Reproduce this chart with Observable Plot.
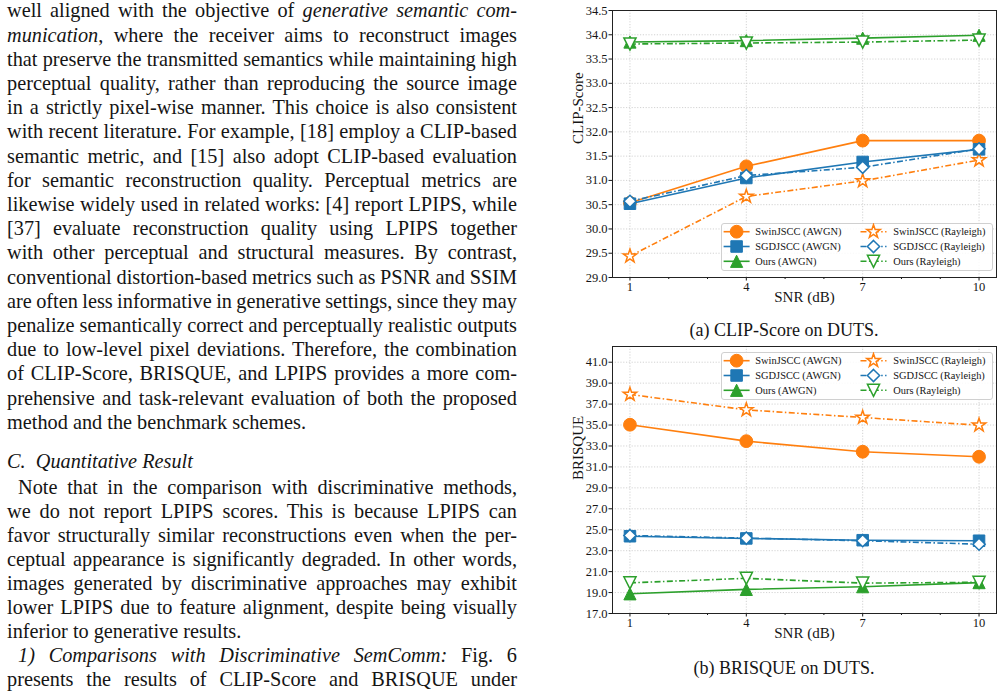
<!DOCTYPE html>
<html>
<head>
<meta charset="utf-8">
<script src="https://cdn.jsdelivr.net/npm/d3@7"></script>
<script src="https://cdn.jsdelivr.net/npm/@observablehq/plot@0.6"></script>
<style>
  html, body { margin: 0; padding: 0; background: #fff; }
  body { width: 1003px; height: 695px; overflow: hidden; position: relative;
         font-family: "Liberation Serif", "Times New Roman", serif; color: #151515; }
  .para { position: absolute; left: 7px; width: 510px; font-size: 20.3px; }
  .j { text-align: justify; text-align-last: justify; word-spacing: -2px; }
  .ind { text-indent: 11px; }
  .chart { position: absolute; left: 560px; width: 443px; height: 310px; }
  .cap { position: absolute; left: 584px; width: 400px; text-align: center; font-size: 18px; line-height: 20px; }
</style>
</head>
<body>

<div class="para" style="top:-1.6px; line-height:24.2px;">
  <div class="j">well aligned with the objective of <i>generative semantic com-</i></div>
  <div class="j"><i>munication</i>, where the receiver aims to reconstruct images</div>
  <div class="j">that preserve the transmitted semantics while maintaining high</div>
  <div class="j">perceptual quality, rather than reproducing the source image</div>
  <div class="j">in a strictly pixel-wise manner. This choice is also consistent</div>
  <div class="j">with recent literature. For example, [18] employ a CLIP-based</div>
  <div class="j">semantic metric, and [15] also adopt CLIP-based evaluation</div>
  <div class="j">for semantic reconstruction quality. Perceptual metrics are</div>
  <div class="j">likewise widely used in related works: [4] report LPIPS, while</div>
  <div class="j">[37] evaluate reconstruction quality using LPIPS together</div>
  <div class="j">with other perceptual and structural measures. By contrast,</div>
  <div class="j">conventional distortion-based metrics such as PSNR and SSIM</div>
  <div class="j">are often less informative in generative settings, since they may</div>
  <div class="j">penalize semantically correct and perceptually realistic outputs</div>
  <div class="j">due to low-level pixel deviations. Therefore, the combination</div>
  <div class="j">of CLIP-Score, BRISQUE, and LPIPS provides a more com-</div>
  <div class="j">prehensive and task-relevant evaluation of both the proposed</div>
  <div>method and the benchmark schemes.</div>
</div>

<div class="para" style="top:448.6px; line-height:24.2px;"><i>C.&nbsp; Quantitative Result</i></div>

<div class="para" style="top:474.6px; line-height:24px;">
  <div class="j ind">Note that in the comparison with discriminative methods,</div>
  <div class="j">we do not report LPIPS scores. This is because LPIPS can</div>
  <div class="j">favor structurally similar reconstructions even when the per-</div>
  <div class="j">ceptual appearance is significantly degraded. In other words,</div>
  <div class="j">images generated by discriminative approaches may exhibit</div>
  <div class="j">lower LPIPS due to feature alignment, despite being visually</div>
  <div>inferior to generative results.</div>
  <div class="j ind"><i>1) Comparisons with Discriminative SemComm:</i> Fig. 6</div>
  <div class="j">presents the results of CLIP-Score and BRISQUE under</div>
</div>

<div id="c1" class="chart" style="top:0px;"></div>
<div class="cap" style="top:320px;">(a) CLIP-Score on DUTS.</div>
<div id="c2" class="chart" style="top:336px;"></div>
<div class="cap" style="top:658px;">(b) BRISQUE on DUTS.</div>

<script>
// ---------------- data ----------------
const snr = [1, 4, 7, 10];
const snrMinor = [2, 3, 5, 6, 8, 9];

const seriesNames = ["SwinJSCC (AWGN)", "SGDJSCC (AWGN)", "Ours (AWGN)",
                     "SwinJSCC (Rayleigh)", "SGDJSCC (Rayleigh)", "Ours (Rayleigh)"];

// (a) CLIP-Score on DUTS
const clipSwinAwgn = [30.54, 31.29, 31.82, 31.82];
const clipSgdAwgn  = [30.52, 31.05, 31.38, 31.64];
const clipOursAwgn = [33.85, 33.88, 33.93, 33.99];
const clipSwinRay  = [29.44, 30.67, 30.99, 31.42];
const clipSgdRay   = [30.57, 31.10, 31.27, 31.65];
const clipOursRay  = [33.81, 33.83, 33.85, 33.89];
const clipTicks = [29.0, 29.5, 30.0, 30.5, 31.0, 31.5, 32.0, 32.5, 33.0, 33.5, 34.0, 34.5];

// (b) BRISQUE on DUTS
const brSwinAwgn = [35.03, 33.46, 32.45, 31.97];
const brSgdAwgn  = [24.38, 24.17, 24.00, 23.95];
const brOursAwgn = [18.88, 19.30, 19.56, 19.95];
const brSwinRay  = [37.92, 36.45, 35.72, 34.98];
const brSgdRay   = [24.45, 24.20, 23.95, 23.62];
const brOursRay  = [19.93, 20.36, 19.90, 19.98];
const brTicks = [17.0, 19.0, 21.0, 23.0, 25.0, 27.0, 29.0, 31.0, 33.0, 35.0, 37.0, 39.0, 41.0];

// ---------------- styles ----------------
const seriesColors = ["#ff7f0e", "#1f77b4", "#2ca02c", "#ff7f0e", "#1f77b4", "#2ca02c"];
const seriesDash = [null, null, null, "6,2.4,1.5,2.4", "6,2.4,1.5,2.4", "6,2.4,1.5,2.4"];
const seriesHollow = [false, false, false, true, true, true];

function rad(size) { return Math.sqrt(size / Math.PI); }
const symCircle = { draw(c, s) { const r = rad(s); c.moveTo(r, 0); c.arc(0, 0, r, 0, 2 * Math.PI); c.closePath(); } };
const symSquare = { draw(c, s) { const h = rad(s) * 0.9; c.rect(-h, -h, 2 * h, 2 * h); } };
const symTriUp = { draw(c, s) { const h = rad(s) * 0.95; c.moveTo(0, -h); c.lineTo(h, h); c.lineTo(-h, h); c.closePath(); } };
const symTriDown = { draw(c, s) { const h = rad(s) * 0.95; c.moveTo(0, h); c.lineTo(h, -h); c.lineTo(-h, -h); c.closePath(); } };
const symDiamond = { draw(c, s) { const h = rad(s) * 0.95; c.moveTo(0, -h); c.lineTo(h, 0); c.lineTo(0, h); c.lineTo(-h, 0); c.closePath(); } };
const symStar = { draw(c, s) {
  const R = rad(s) * 1.1, ri = R * 0.39;
  for (let k = 0; k < 10; ++k) {
    const a = -Math.PI / 2 + k * Math.PI / 5, rr = k % 2 ? ri : R;
    const x = rr * Math.cos(a), y = rr * Math.sin(a);
    if (k === 0) c.moveTo(x, y); else c.lineTo(x, y);
  }
  c.closePath();
} };
const seriesSymbols = [symCircle, symSquare, symTriUp, symStar, symDiamond, symTriDown];
const markerR = 6.4;

function table(valueArrays) {
  const rows = [];
  valueArrays.forEach((vals, i) => vals.forEach((v, k) => rows.push({series: seriesNames[i], snr: snr[k], value: v})));
  return rows;
}

function makeChart(rows, yDomain, yTicks, yLabel) {
  const marks = [
    Plot.gridX({ticks: snr, stroke: "#c8c8c8", strokeOpacity: 1, strokeWidth: 0.8, strokeDasharray: "1.2,1.6"}),
    Plot.gridY({ticks: yTicks, stroke: "#c8c8c8", strokeOpacity: 1, strokeWidth: 0.8, strokeDasharray: "1.2,1.6"}),
    Plot.axisY({ticks: yTicks, tickFormat: d3.format(".1f"), tickSize: 3.5, tickPadding: 1.5, label: null, fontSize: 12.5}),
    Plot.axisX({ticks: snr, tickSize: 3.5, tickPadding: 1.5, label: null, fontSize: 12.5}),
    Plot.axisX({ticks: snrMinor, tickSize: 2, tickFormat: () => "", label: null})
  ];
  seriesNames.forEach((name, i) => {
    const data = rows.filter(d => d.series === name);
    marks.push(Plot.line(data, {x: "snr", y: "value", stroke: seriesColors[i], strokeWidth: 1.6,
      strokeDasharray: seriesDash[i], strokeLinecap: "butt"}));
    marks.push(Plot.dot(data, {x: "snr", y: "value", symbol: seriesSymbols[i], r: markerR,
      fill: seriesHollow[i] ? "white" : seriesColors[i], stroke: seriesColors[i],
      strokeWidth: seriesHollow[i] ? 1.5 : 1}));
  });
  marks.push(Plot.frame({stroke: "#222", strokeWidth: 1}));
  marks.push(Plot.text([yLabel], {text: d => d, frameAnchor: "left", rotate: -90, dx: -34, fontSize: 15}));
  marks.push(Plot.text(["SNR (dB)"], {text: d => d, frameAnchor: "bottom", dy: 24, fontSize: 15}));
  return Plot.plot({
    width: 443, height: 310,
    marginLeft: 52, marginRight: 7, marginTop: 10, marginBottom: 33,
    style: {fontFamily: '"Liberation Serif", "Times New Roman", serif', fontSize: "12.5px", color: "#151515", background: "transparent"},
    x: {type: "linear", domain: [0.55, 10.45]},
    y: {type: "linear", domain: yDomain},
    marks
  });
}

function addLegend(container, left, top) {
  const W = 272, H = 48;
  const div = d3.select(container).append("div")
    .style("position", "absolute").style("left", left + "px").style("top", top + "px")
    .style("width", W + "px").style("height", H + "px").style("box-sizing", "border-box")
    .style("background", "rgba(255,255,255,0.85)").style("border", "1px solid #d0d0d0")
    .style("border-radius", "3px");
  const svg = div.append("svg").attr("width", W).attr("height", H)
    .style("position", "absolute").style("left", "-1px").style("top", "-1px")
    .style("font-family", '"Liberation Serif", "Times New Roman", serif').style("font-size", "10.4px");
  seriesNames.forEach((name, i) => {
    const col = i < 3 ? 0 : 1, row = i % 3;
    const hx = col ? 139.5 : 2.6, tx = col ? 172.3 : 34.3;
    const cy = 8.7 + row * 14.8;
    svg.append("line").attr("x1", hx).attr("x2", hx + 26).attr("y1", cy).attr("y2", cy)
      .attr("stroke", seriesColors[i]).attr("stroke-width", 1.6)
      .attr("stroke-dasharray", seriesDash[i]).attr("stroke-linecap", "butt");
    svg.append("path").attr("transform", `translate(${hx + 13},${cy})`)
      .attr("d", d3.symbol(seriesSymbols[i], Math.PI * markerR * markerR)())
      .attr("fill", seriesHollow[i] ? "white" : seriesColors[i]).attr("stroke", seriesColors[i])
      .attr("stroke-width", seriesHollow[i] ? 1.5 : 1);
    svg.append("text").attr("x", tx).attr("y", cy).attr("dy", "0.35em").attr("fill", "#151515").text(name);
  });
}

const clipRows = table([clipSwinAwgn, clipSgdAwgn, clipOursAwgn, clipSwinRay, clipSgdRay, clipOursRay]);
const brRows = table([brSwinAwgn, brSgdAwgn, brOursAwgn, brSwinRay, brSgdRay, brOursRay]);

const c1 = document.getElementById("c1");
const c2 = document.getElementById("c2");
c1.append(makeChart(clipRows, [29, 34.5], clipTicks, "CLIP-Score"));
c2.append(makeChart(brRows, [17, 42.5], brTicks, "BRISQUE"));
addLegend(c1, 160.7, 223);
addLegend(c2, 160.7, 15.5);
</script>
</body>
</html>
